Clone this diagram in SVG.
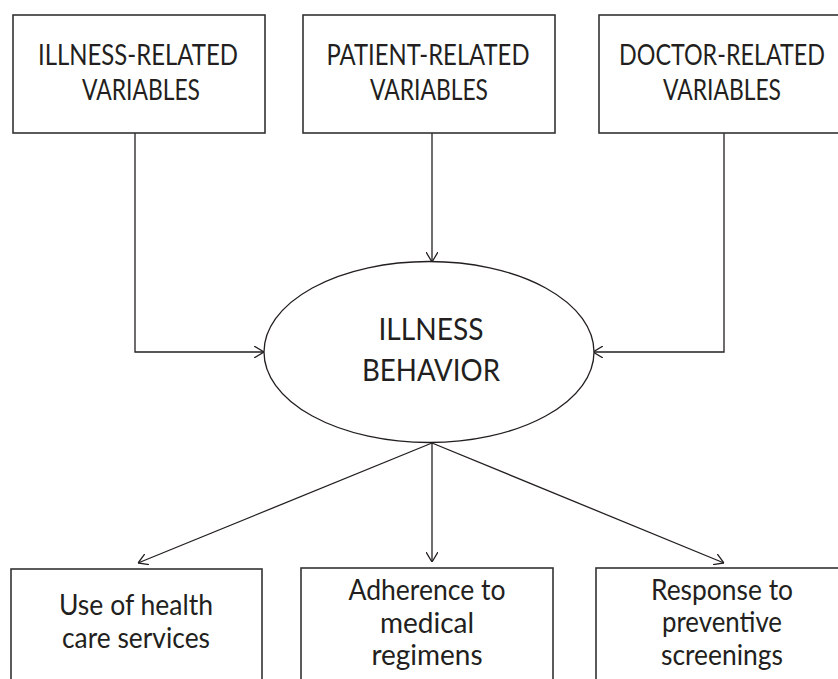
<svg xmlns="http://www.w3.org/2000/svg" width="838" height="679" viewBox="0 0 838 679">
  <style>
    .box { fill: #fff; stroke: #333; stroke-width: 1.6; }
    .oval { fill: #fff; stroke: #231f20; stroke-width: 1.3; }
    .lbl { font-family: Lato, "Liberation Sans", sans-serif; font-size: 28px; fill: #231f20; text-anchor: middle; }
    .big { font-size: 31px; }
    .wire { fill: none; stroke: #231f20; stroke-width: 1.3; }
  </style>
  <defs>
    <marker id="arrow" viewBox="0 0 10 12" refX="10" refY="6" markerWidth="10" markerHeight="12" markerUnits="userSpaceOnUse" orient="auto">
      <path d="M0,0 L10,6 L0,12" fill="none" stroke="#231f20" stroke-width="1.3"/>
    </marker>
  </defs>
  <rect width="838" height="679" fill="#fff"/>

  <g id="connectors">
    <polyline class="wire" points="135,133 135,352 264,352" marker-end="url(#arrow)"/>
    <line class="wire" x1="432" y1="133" x2="432" y2="262" marker-end="url(#arrow)"/>
    <polyline class="wire" points="724,133 724,352 593,352" marker-end="url(#arrow)"/>
    <line class="wire" x1="432" y1="443" x2="138" y2="563" marker-end="url(#arrow)"/>
    <line class="wire" x1="432" y1="443" x2="432" y2="562" marker-end="url(#arrow)"/>
    <line class="wire" x1="432" y1="443" x2="724" y2="563" marker-end="url(#arrow)"/>
  </g>

  <g id="illness-vars">
    <rect class="box" x="13" y="15" width="252" height="118"/>
    <text class="lbl" x="138" y="65" textLength="200" lengthAdjust="spacingAndGlyphs">ILLNESS-RELATED</text>
    <text class="lbl" x="141" y="100" textLength="118" lengthAdjust="spacingAndGlyphs">VARIABLES</text>
  </g>
  <g id="patient-vars">
    <rect class="box" x="303" y="15" width="252" height="118"/>
    <text class="lbl" x="428" y="65" textLength="203" lengthAdjust="spacingAndGlyphs">PATIENT-RELATED</text>
    <text class="lbl" x="429" y="100" textLength="118" lengthAdjust="spacingAndGlyphs">VARIABLES</text>
  </g>
  <g id="doctor-vars">
    <rect class="box" x="599" y="15" width="241" height="118"/>
    <text class="lbl" x="722" y="65" textLength="206" lengthAdjust="spacingAndGlyphs">DOCTOR-RELATED</text>
    <text class="lbl" x="722" y="100" textLength="118" lengthAdjust="spacingAndGlyphs">VARIABLES</text>
  </g>

  <g id="illness-behavior">
    <ellipse class="oval" cx="429" cy="352" rx="165" ry="90.5"/>
    <text class="lbl big" x="431" y="340" textLength="105" lengthAdjust="spacingAndGlyphs">ILLNESS</text>
    <text class="lbl big" x="431" y="381" textLength="138" lengthAdjust="spacingAndGlyphs">BEHAVIOR</text>
  </g>

  <g id="health-care-use">
    <rect class="box" x="11" y="569" width="251" height="130"/>
    <text class="lbl" x="136" y="615" textLength="154" lengthAdjust="spacingAndGlyphs">Use of health</text>
    <text class="lbl" x="136" y="648" textLength="148" lengthAdjust="spacingAndGlyphs">care services</text>
  </g>
  <g id="adherence">
    <rect class="box" x="301" y="568" width="252" height="130"/>
    <text class="lbl" x="427" y="600" textLength="157" lengthAdjust="spacingAndGlyphs">Adherence to</text>
    <text class="lbl" x="427" y="633">medical</text>
    <text class="lbl" x="427" y="665">regimens</text>
  </g>
  <g id="screenings">
    <rect class="box" x="596" y="568" width="244" height="130"/>
    <text class="lbl" x="722" y="600" textLength="142" lengthAdjust="spacingAndGlyphs">Response to</text>
    <text class="lbl" x="722" y="632" textLength="120" lengthAdjust="spacingAndGlyphs">preventive</text>
    <text class="lbl" x="722" y="665" textLength="122" lengthAdjust="spacingAndGlyphs">screenings</text>
  </g>
</svg>
